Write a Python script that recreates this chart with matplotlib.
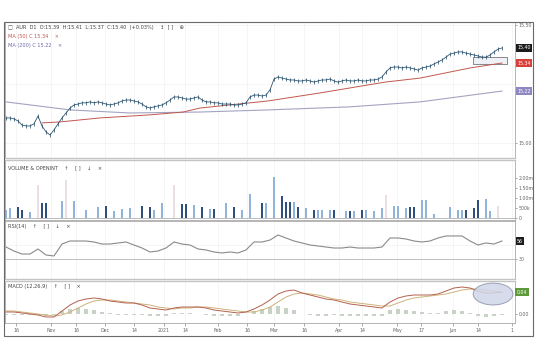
import numpy as np
import matplotlib
matplotlib.use("Agg")
import matplotlib.pyplot as plt
from matplotlib.patches import Rectangle, Ellipse

plt.rcParams.update({
    "font.family": ["DejaVu Sans"],
    "font.size": 3.6,
    "axes.linewidth": 0.6,
})

# daily closes (one per bar)
close = [15.106, 15.106, 15.102, 15.093, 15.076, 15.072, 15.072, 15.081, 15.114, 15.072,
         15.047, 15.034, 15.055, 15.081, 15.106, 15.127, 15.148, 15.161, 15.165, 15.170,
         15.170, 15.174, 15.170, 15.174, 15.170, 15.165, 15.161, 15.165, 15.170, 15.178,
         15.182, 15.182, 15.178, 15.174, 15.165, 15.153, 15.148, 15.153, 15.157, 15.161,
         15.170, 15.182, 15.195, 15.195, 15.191, 15.186, 15.186, 15.191, 15.195, 15.182,
         15.174, 15.174, 15.170, 15.170, 15.165, 15.165, 15.165, 15.161, 15.161, 15.165,
         15.170, 15.195, 15.203, 15.203, 15.199, 15.203, 15.225, 15.271, 15.280, 15.275,
         15.271, 15.267, 15.267, 15.263, 15.263, 15.267, 15.263, 15.258, 15.263, 15.267,
         15.267, 15.271, 15.263, 15.258, 15.263, 15.267, 15.263, 15.263, 15.267, 15.263,
         15.263, 15.267, 15.267, 15.271, 15.280, 15.301, 15.318, 15.322, 15.322, 15.318,
         15.322, 15.318, 15.314, 15.309, 15.318, 15.322, 15.326, 15.335, 15.343, 15.352,
         15.364, 15.377, 15.381, 15.386, 15.386, 15.381, 15.377, 15.373, 15.369, 15.364,
         15.364, 15.373, 15.386, 15.398, 15.403]

ma50_idx = [9, 13.5, 23.5, 36, 44.25, 48.5, 65.5, 78.5, 94.75, 103.5, 116, 124]
ma50_val = [15.085, 15.089, 15.106, 15.119, 15.131, 15.148, 15.178, 15.212, 15.258,
            15.275, 15.318, 15.339]
ma200_idx = [0, 16, 31, 48.5, 65.5, 86, 103.5, 124]
ma200_val = [15.174, 15.140, 15.127, 15.131, 15.140, 15.153, 15.174, 15.220]

# volume in millions (one per bar, 0 = no bar)
volume = [0.40, 0.50, 0, 0.55, 0.40, 0, 0.30, 0, 0, 0.75,
          0.75, 0, 0, 0, 0.85, 0, 0, 0.85, 0, 0,
          0.40, 0, 0, 0.55, 0, 0.60, 0, 0.35, 0, 0.45,
          0, 0.50, 0, 0, 0.60, 0, 0.55, 0.40, 0, 0.75,
          0, 0, 0, 0, 0.70, 0.70, 0, 0.65, 0, 0.55,
          0, 0.45, 0.45, 0, 0, 0.75, 0, 0.55, 0, 0.40,
          0, 1.20, 0, 0, 0.75, 0.75, 0, 2.05, 0, 1.10,
          0.80, 0.80, 0.80, 0.55, 0, 0.50, 0, 0.40, 0.40, 0.40,
          0, 0.40, 0.40, 0, 0, 0.35, 0.35, 0.35, 0, 0.40,
          0.40, 0, 0.35, 0, 0.50, 0, 0, 0.60, 0.60, 0,
          0.50, 0.55, 0.55, 0, 0.90, 0.90, 0, 0.20, 0, 0,
          0, 0.55, 0, 0.40, 0.40, 0.40, 0, 0.50, 0.90, 0,
          0.95, 0.35, 0, 0, 0]
pale_idx = [8, 15, 42, 95, 123]
pale_vol = [1.65, 1.90, 1.65, 1.15, 0.60]

# indicators, one value every second bar
rsi = [47.1, 41.4, 37.1, 37.1, 44.3, 35.7, 34.3, 51.4, 55.7, 55.7,
       55.7, 54.3, 51.4, 51.4, 52.9, 54.3, 50.0, 45.7, 40.0, 41.4,
       45.7, 54.3, 51.4, 50.0, 44.3, 42.9, 40.0, 38.6, 40.0, 38.6,
       42.9, 54.3, 54.3, 57.1, 64.3, 60.0, 55.7, 52.9, 50.0, 48.6,
       47.1, 45.7, 45.7, 47.1, 45.7, 45.7, 45.7, 47.1, 60.0, 60.0,
       58.6, 55.7, 54.3, 55.7, 60.0, 62.9, 62.9, 62.9, 55.7, 50.0,
       52.9, 51.4, 55.7]
macd = [0.004, 0.004, 0.002, 0.000, -0.002, -0.006, -0.006, 0.006, 0.018, 0.026,
        0.030, 0.032, 0.030, 0.026, 0.024, 0.022, 0.022, 0.018, 0.012, 0.010,
        0.008, 0.012, 0.014, 0.014, 0.014, 0.012, 0.008, 0.006, 0.004, 0.002,
        0.004, 0.010, 0.018, 0.028, 0.040, 0.046, 0.048, 0.042, 0.038, 0.034,
        0.030, 0.028, 0.024, 0.020, 0.018, 0.016, 0.014, 0.012, 0.024, 0.032,
        0.036, 0.038, 0.038, 0.038, 0.040, 0.046, 0.052, 0.054, 0.052, 0.046,
        0.042, 0.042, 0.044]
signal = [0.006, 0.006, 0.004, 0.002, 0.000, -0.002, -0.004, -0.002, 0.004, 0.012,
          0.020, 0.026, 0.028, 0.028, 0.026, 0.024, 0.022, 0.020, 0.018, 0.014,
          0.012, 0.010, 0.012, 0.012, 0.014, 0.014, 0.012, 0.010, 0.008, 0.006,
          0.004, 0.004, 0.008, 0.014, 0.024, 0.034, 0.040, 0.042, 0.040, 0.038,
          0.034, 0.030, 0.028, 0.024, 0.022, 0.020, 0.018, 0.016, 0.016, 0.022,
          0.028, 0.032, 0.034, 0.036, 0.038, 0.040, 0.044, 0.048, 0.050, 0.050,
          0.048, 0.046, 0.044]
hist = [-0.002, -0.002, -0.002, -0.002, -0.002, -0.004, -0.002, 0.006, 0.010, 0.012,
        0.010, 0.008, 0.004, 0.002, -0.002, -0.002, -0.002, -0.002, -0.004, -0.004,
        -0.004, 0.002, 0.002, 0.002, 0.000, -0.002, -0.004, -0.004, -0.004, -0.004,
        0.000, 0.006, 0.010, 0.014, 0.016, 0.012, 0.008, 0.000, -0.002, -0.004,
        -0.004, -0.002, -0.004, -0.004, -0.004, -0.004, -0.004, -0.004, 0.008, 0.010,
        0.008, 0.006, 0.004, 0.002, 0.002, 0.006, 0.008, 0.006, 0.002, -0.004,
        -0.006, -0.004, -0.002]

tick_pos = [2.5, 11.25, 17.5, 24.75, 32, 39.5, 44.75, 53, 60.25, 67, 74.5, 83.25,
            89, 97.75, 103.75, 111.75, 118, 126.5]
tick_lbl = ["16", "Nov", "16", "Dec", "14", "2021", "14", "Feb", "16", "Mar", "16",
            "Apr", "14", "May", "17", "Jun", "14", "1"]

W, H = 536, 351
fig = plt.figure(figsize=(W / 100, H / 100), dpi=100)


def panel(top, bottom, left=5, right=515):
    return fig.add_axes([left / W, 1 - bottom / H, (right - left) / W, (bottom - top) / H])


ax_p = panel(22, 158)
ax_v = panel(160, 220)
ax_r = panel(221, 279)
ax_m = panel(281, 323)

bars = np.arange(len(close))
ind = np.arange(len(rsi)) * 2

for ax in (ax_p, ax_v, ax_r, ax_m):
    ax.set_xlim(-0.25, 127.25)
    ax.set_xticks(tick_pos)
    for t in tick_pos:
        ax.axvline(t, color="#f2f2f2", lw=0.5, zorder=0)
    ax.yaxis.tick_right()
    ax.tick_params(axis="y", length=1.5, width=0.4, pad=1.2, labelsize=3.4, colors="#666")
    ax.tick_params(axis="x", length=0, labelbottom=False)
    for s in ax.spines.values():
        s.set_color("#a8a8a8")
        s.set_linewidth(0.6)

# panel separators: light grey double rule
for ax, side in ((ax_p, "bottom"), (ax_v, "top"), (ax_r, "bottom"), (ax_m, "top")):
    ax.spines[side].set_color("#c4c4c4")
    ax.spines[side].set_linewidth(1.0)

# price panel
ax_p.set_ylim(14.936, 15.513)
ax_p.set_yticks([15.0, 15.5])
ax_p.set_yticklabels(["15.00", "15.50"])
for v in (15.0, 15.25, 15.5):
    ax_p.axhline(v, color="#f2f2f2", lw=0.5, zorder=0)
ax_p.plot(ma200_idx, ma200_val, color="#a3a3c2", lw=0.8)
ax_p.plot(ma50_idx, ma50_val, color="#c0584e", lw=0.7)
ax_p.plot(bars, close, color="#2d5876", lw=0.6)
ax_p.plot(bars, close, ls="none", marker="|", ms=2.6, mew=0.5, color="#23465f")
ax_p.add_patch(Rectangle((0.918, 0.691), 0.066, 0.052, transform=ax_p.transAxes,
                         fc="#eef1f5", ec="#777", lw=0.6, zorder=1))

boxes = [(close[-1], "#1c1c1c"), (ma50_val[-1], "#d8403a"), (ma200_val[-1], "#8d88c2")]
for val, col in boxes:
    ax_p.text(1.004, val, f"{val:.2f}", transform=ax_p.get_yaxis_transform(),
              ha="left", va="center", color="white", fontsize=3.4, clip_on=False,
              bbox=dict(boxstyle="square,pad=0.3", fc=col, ec="none"))

ax_p.text(0.006, 0.956, "\u25a1  AUR  D1  O:15.39  H:15.41  L:15.37  C:15.40  (+0.03%)    \u2195  [ ]    \u2295",
          transform=ax_p.transAxes, color="#444", va="center")
ax_p.text(0.006, 0.89, f"MA (50) C {ma50_val[-1]:.2f}    \u00d7", transform=ax_p.transAxes,
          color="#c0584e", va="center")
ax_p.text(0.006, 0.824, f"MA (200) C {ma200_val[-1]:.2f}    \u00d7", transform=ax_p.transAxes,
          color="#6e6aa8", va="center")

# volume panel
ax_v.set_ylim(-0.1, 2.9)
ax_v.set_yticks([0, 0.5, 1.0, 1.5, 2.0])
ax_v.set_yticklabels(["0", "500k", "1.00m", "1.50m", "2.00m"])
ax_v.axhline(0, color="#b0b0b0", lw=0.6)
up = np.diff(np.r_[close[0], close]) >= 0
vcols = np.where(up, "#8fb3da", "#2f4f7c")
ax_v.bar(pale_idx, pale_vol, width=0.7, color="#ecdfe3", zorder=1)
ax_v.bar(bars, volume, width=0.6, color=vcols, zorder=2)
ax_v.text(0.006, 0.867, "VOLUME & OPENINT    \u2191    [ ]    \u2193    \u00d7",
          transform=ax_v.transAxes, color="#444", va="center")

# RSI panel
ax_r.set_ylim(1.4, 84.3)
ax_r.set_yticks([30])
ax_r.set_yticklabels(["30"])
ax_r.axhline(30, color="#b5b5b5", lw=0.6)
ax_r.axhline(50, color="#f0f0f0", lw=0.5, zorder=0)
ax_r.plot(ind, rsi, color="#8a8a8a", lw=0.8)
ax_r.text(1.004, rsi[-1], f"{rsi[-1]:.0f}", transform=ax_r.get_yaxis_transform(),
          ha="left", va="center", color="white", fontsize=3.4, clip_on=False,
          bbox=dict(boxstyle="square,pad=0.3", fc="#1c1c1c", ec="none"))
ax_r.text(0.006, 0.897, "RSI(14)    \u2191    [ ]    \u2193    \u00d7",
          transform=ax_r.transAxes, color="#444", va="center")

# MACD panel
ax_m.set_ylim(-0.018, 0.066)
ax_m.set_yticks([0.0])
ax_m.set_yticklabels(["0.00"])
ax_m.bar(ind, hist, width=1.0, color="#c9d2c6", zorder=1)
ax_m.plot(ind, signal, color="#cdb27a", lw=0.7, zorder=2)
ax_m.plot(ind, macd, color="#b5604c", lw=0.7, zorder=3)
ax_m.add_patch(Ellipse((0.957, 0.69), 0.078, 0.52, transform=ax_m.transAxes,
                       fc="#cfd6e8", ec="#8a93a8", lw=0.7, alpha=0.85, zorder=4))
ax_m.text(1.004, macd[-1], f"{macd[-1]:.2f}", transform=ax_m.get_yaxis_transform(),
          ha="left", va="center", color="white", fontsize=3.4, clip_on=False,
          bbox=dict(boxstyle="square,pad=0.4", fc="#5d9a3c", ec="none"))
ax_m.text(0.006, 0.88, "MACD (12,26,9)    \u2191    [ ]    \u00d7",
          transform=ax_m.transAxes, color="#444", va="center")

ax_m.tick_params(axis="x", length=2, width=0.4, pad=1.5, labelbottom=True,
                 labelsize=3.4, colors="#666")
ax_m.set_xticklabels(tick_lbl)

# outer frame
fig.add_artist(Rectangle((4 / W, 1 - 336 / H), 529 / W, 314 / H, transform=fig.transFigure,
                         fill=False, ec="#6a6a6a", lw=0.8))

fig.savefig("out.png", dpi=100)
